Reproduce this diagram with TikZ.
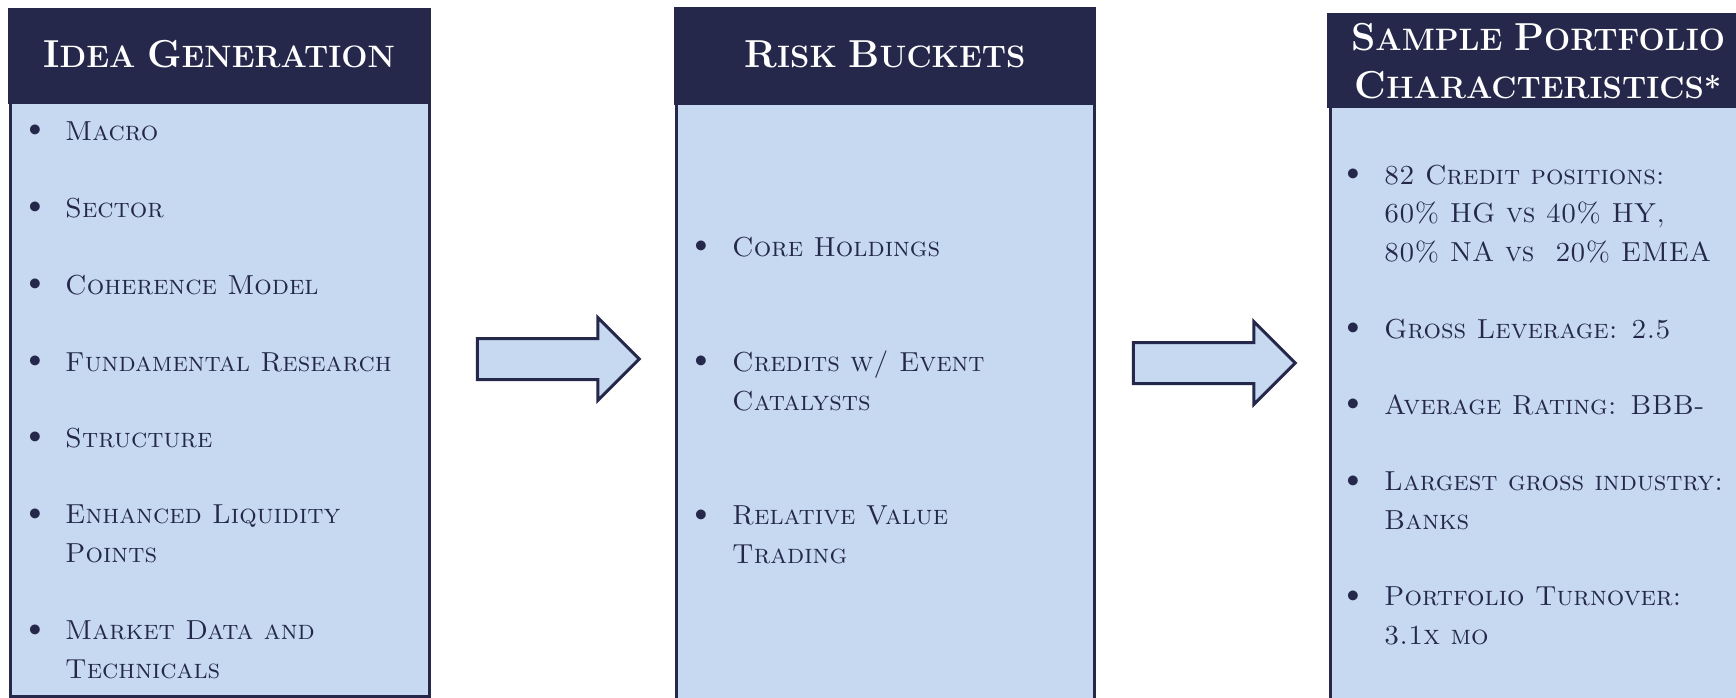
\documentclass[tikz,border=0pt]{standalone}
\usepackage{fontspec}
\usetikzlibrary{shapes.arrows}
\definecolor{navy}{RGB}{37,40,75}
\definecolor{paleblue}{RGB}{198,217,240}
\newcommand{\itemfont}{\fontsize{27.5}{38.7}\selectfont\scshape}
\newcommand{\headfont}{\fontsize{31}{48}\selectfont\bfseries}
\newcommand{\hcap}[1]{{\fontsize{39}{48}\selectfont #1}}

\tikzset{
    head/.style={fill=navy},
    body/.style={fill=paleblue, draw=navy, line width=3pt},
    title/.style={text=white, font=\headfont, align=center, inner sep=0pt},
    dot/.style={text=navy, font=\itemfont, anchor=center, inner sep=0pt},
    item/.style={text=navy, font=\itemfont, anchor=west, align=left, inner sep=0pt},
    blockarrow/.style={single arrow, single arrow head extend=21pt,
        minimum height=162pt, minimum width=80pt, inner xsep=0pt, inner ysep=19pt,
        fill=paleblue, draw=navy, line width=3pt}
}

\begin{document}
\begin{tikzpicture}[x=1pt, y=-1pt]
    \useasboundingbox (0,0) rectangle (1736,698);
    \clip (0,0) rectangle (1736,698);
    % Idea generation
    \draw[body] (10,60) rectangle (429,696);
    \fill[head] (8,8) rectangle (431,104);
    \node[title] (ideatitle) at (219,54) {\hcap{I}DEA \hcap{G}ENERATION};
    \foreach \y/\txt in {131/Macro, 208/Sector, 285/Coherence Model,
                         362/Fundamental Research, 438/Structure}
    {
        \node[dot] at (35,\y) {\textbullet};
        \node[item] at (65,\y) {\txt};
    }
    \node[dot] (b6) at (35,515) {\textbullet};
    \node[item] (idea6) at (65,534) {Enhanced Liquidity\\Points};
    \node[dot] (b7) at (35,631) {\textbullet};
    \node[item] (idea7) at (65,650) {Market Data and\\Technicals};

    % Risk buckets
    \draw[body] (676,60) rectangle (1094,700);
    \fill[head] (674,7) rectangle (1096,105);
    \node[title] (risktitle) at (885,54) {\hcap{R}ISK \hcap{B}UCKETS};
    \node[dot] (r1) at (701,247) {\textbullet};
    \node[item] (risk1) at (732,247) {Core Holdings};
    \node[dot] (r2) at (701,362) {\textbullet};
    \node[item] (risk2) at (732,381) {Credits w/ Event\\Catalysts};
    \node[dot] (r3) at (701,516) {\textbullet};
    \node[item] (risk3) at (732,535) {Relative Value\\Trading};

    % Sample portfolio
    \draw[body] (1330,60) rectangle (1760,700);
    \fill[head] (1327,13) rectangle (1760,108);
    \node[title] (porttitle) at (1538,61)
        {\hcap{S}AMPLE \hcap{P}ORTFOLIO\\\hcap{C}HARACTERISTICS*};
    \node[dot] (p1) at (1353,175) {\textbullet};
    \node[item] (port1) at (1384,214)
        {82 Credit positions:\\60\% HG vs 40\% HY,\\80\% NA vs \ 20\% EMEA};
    \node[dot] (p2) at (1353,329) {\textbullet};
    \node[item] (port2) at (1384,329) {Gross Leverage: 2.5};
    \node[dot] (p3) at (1353,405) {\textbullet};
    \node[item] (port3) at (1384,405) {Average Rating: BBB-};
    \node[dot] (p4) at (1353,482) {\textbullet};
    \node[item] (port4) at (1384,501) {Largest gross industry:\\Banks};
    \node[dot] (p5) at (1353,597) {\textbullet};
    \node[item] (port5) at (1384,616) {Portfolio Turnover:\\3.1x mo};

    % Arrows between the stages
    \node[blockarrow] (arrow1) at (548,359) {};
    \node[blockarrow] (arrow2) at (1204,363) {};
\end{tikzpicture}
\end{document}
